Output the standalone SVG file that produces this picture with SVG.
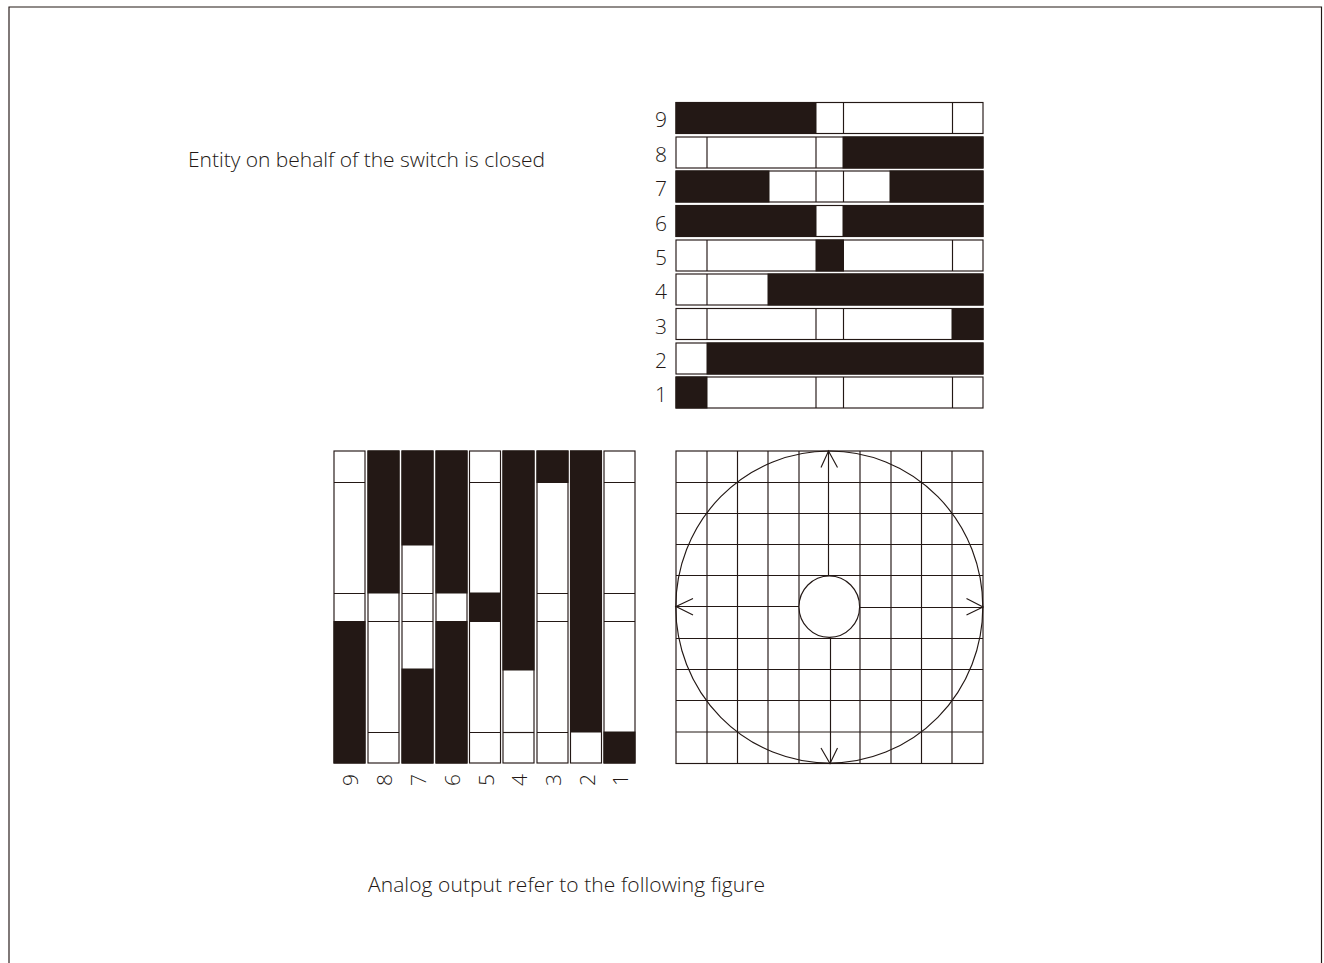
<svg xmlns="http://www.w3.org/2000/svg" width="1324" height="963" viewBox="0 0 1324 963">
<style>
.t{font-family:"Open Sans","Noto Sans",sans-serif;fill:#231815;font-size:21px;font-weight:300}
.n{font-family:"Open Sans","Noto Sans",sans-serif;fill:#231815;font-size:21px;font-weight:300}
.l{stroke:#231815;stroke-width:1.15;fill:none}
.w{fill:#fff;stroke:#231815;stroke-width:1.15}
.b{fill:#231815;stroke:#231815;stroke-width:1}
</style>
<rect width="1324" height="963" fill="#fff"/>
<g id="frame"><path class="l" d="M9 963V7H1321.500V963"/></g>
<text class="t" x="188" y="167" textLength="357">Entity on behalf of the switch is closed</text>
<text class="t" x="368" y="891.500" textLength="397">Analog output refer to the following figure</text>
<g id="top-panel">
<text class="n" x="655" y="127">9</text><text class="n" x="655" y="162">8</text><text class="n" x="655" y="196">7</text><text class="n" x="655" y="231">6</text><text class="n" x="655" y="265">5</text><text class="n" x="655" y="299">4</text><text class="n" x="655" y="334">3</text><text class="n" x="655" y="368">2</text><text class="n" x="655" y="402">1</text>
<rect class="w" x="676" y="102.500" width="307" height="31"/><rect class="b" x="676" y="102.500" width="140" height="31"/><path class="l" d="M843.500 102.500V133.500M952.500 102.500V133.500"/>
<rect class="w" x="676" y="137" width="307" height="31"/><rect class="b" x="843" y="137" width="140" height="31"/><path class="l" d="M707 137V168M816 137V168"/>
<rect class="w" x="676" y="171" width="307" height="31"/><rect class="b" x="676" y="171" width="93" height="31"/><rect class="b" x="890" y="171" width="93" height="31"/><path class="l" d="M816 171V202M843.500 171V202"/>
<rect class="w" x="676" y="205.500" width="307" height="31"/><rect class="b" x="676" y="205.500" width="140" height="31"/><rect class="b" x="843" y="205.500" width="140" height="31"/>
<rect class="w" x="676" y="240" width="307" height="31"/><rect class="b" x="816" y="240" width="27.500" height="31"/><path class="l" d="M707 240V271M952.500 240V271"/>
<rect class="w" x="676" y="274" width="307" height="31"/><rect class="b" x="768" y="274" width="215" height="31"/><path class="l" d="M707 274V305"/>
<rect class="w" x="676" y="308.500" width="307" height="31"/><rect class="b" x="952" y="308.500" width="31" height="31"/><path class="l" d="M707 308.500V339.500M816 308.500V339.500M843.500 308.500V339.500"/>
<rect class="w" x="676" y="343" width="307" height="31"/><rect class="b" x="707" y="343" width="276" height="31"/>
<rect class="w" x="676" y="377" width="307" height="31"/><rect class="b" x="676" y="377" width="31" height="31"/><path class="l" d="M816 377V408M843.500 377V408M952.500 377V408"/>
</g>
<g id="left-panel">
<g transform="translate(334 451)"><rect class="w" width="31" height="312"/><rect class="b" y="170.500" width="31" height="141.500"/><path class="l" d="M0 31.500H31M0 142.500H31"/></g>
<g transform="translate(368 451)"><rect class="w" width="31" height="312"/><rect class="b" width="31" height="142"/><path class="l" d="M0 170.500H31M0 281.500H31"/></g>
<g transform="translate(402 451)"><rect class="w" width="31" height="312"/><rect class="b" width="31" height="94"/><rect class="b" y="218" width="31" height="94"/><path class="l" d="M0 142.500H31M0 170.500H31"/></g>
<g transform="translate(436 451)"><rect class="w" width="31" height="312"/><rect class="b" width="31" height="142"/><rect class="b" y="170.500" width="31" height="141.500"/></g>
<g transform="translate(469.500 451)"><rect class="w" width="31" height="312"/><rect class="b" y="142" width="31" height="28.500"/><path class="l" d="M0 31.500H31M0 281.500H31"/></g>
<g transform="translate(503 451)"><rect class="w" width="31" height="312"/><rect class="b" width="31" height="219"/><path class="l" d="M0 281.500H31"/></g>
<g transform="translate(537 451)"><rect class="w" width="31" height="312"/><rect class="b" width="31" height="31.500"/><path class="l" d="M0 142.500H31M0 170.500H31M0 281.500H31"/></g>
<g transform="translate(570.500 451)"><rect class="w" width="31" height="312"/><rect class="b" width="31" height="281"/></g>
<g transform="translate(604 451)"><rect class="w" width="31" height="312"/><rect class="b" y="281" width="31" height="31"/><path class="l" d="M0 31.500H31M0 142.500H31M0 170.500H31"/></g>
<text class="n" transform="translate(358 786) rotate(-90)">9</text><text class="n" transform="translate(392 786) rotate(-90)">8</text><text class="n" transform="translate(426 786) rotate(-90)">7</text><text class="n" transform="translate(460 786) rotate(-90)">6</text><text class="n" transform="translate(494 786) rotate(-90)">5</text><text class="n" transform="translate(527 786) rotate(-90)">4</text><text class="n" transform="translate(561 786) rotate(-90)">3</text><text class="n" transform="translate(595 786) rotate(-90)">2</text><text class="n" transform="translate(628 786) rotate(-90)">1</text>
</g>
<g id="grid-panel">
<rect class="l" x="676" y="451" width="307" height="312.500"/>
<path class="l" d="M707 451V763.500M737.500 451V763.500M768 451V763.500M799 451V763.500M860 451V763.500M891 451V763.500M921.500 451V763.500M952 451V763.500"/>
<path class="l" d="M676 482.500H983M676 513.500H983M676 544.500H983M676 575.500H983M676 638.500H983M676 669.500H983M676 700.500H983M676 732H983"/>
<ellipse class="l" cx="829.300" cy="607" rx="153.500" ry="156"/>
<path class="l" d="M828.500 451V576M830.500 637V763.500M676 606.500H799M860 607.500H983"/>
<path class="l" d="M821 467.500L828.500 451L837.500 467.500M821 748L830 763.500L837.500 748M693 598.500L676 606.500L693 615M966.500 598.500L983 607L966.500 615"/>
<ellipse class="w" cx="829.300" cy="606.700" rx="30.300" ry="30.700"/>
</g>
</svg>
